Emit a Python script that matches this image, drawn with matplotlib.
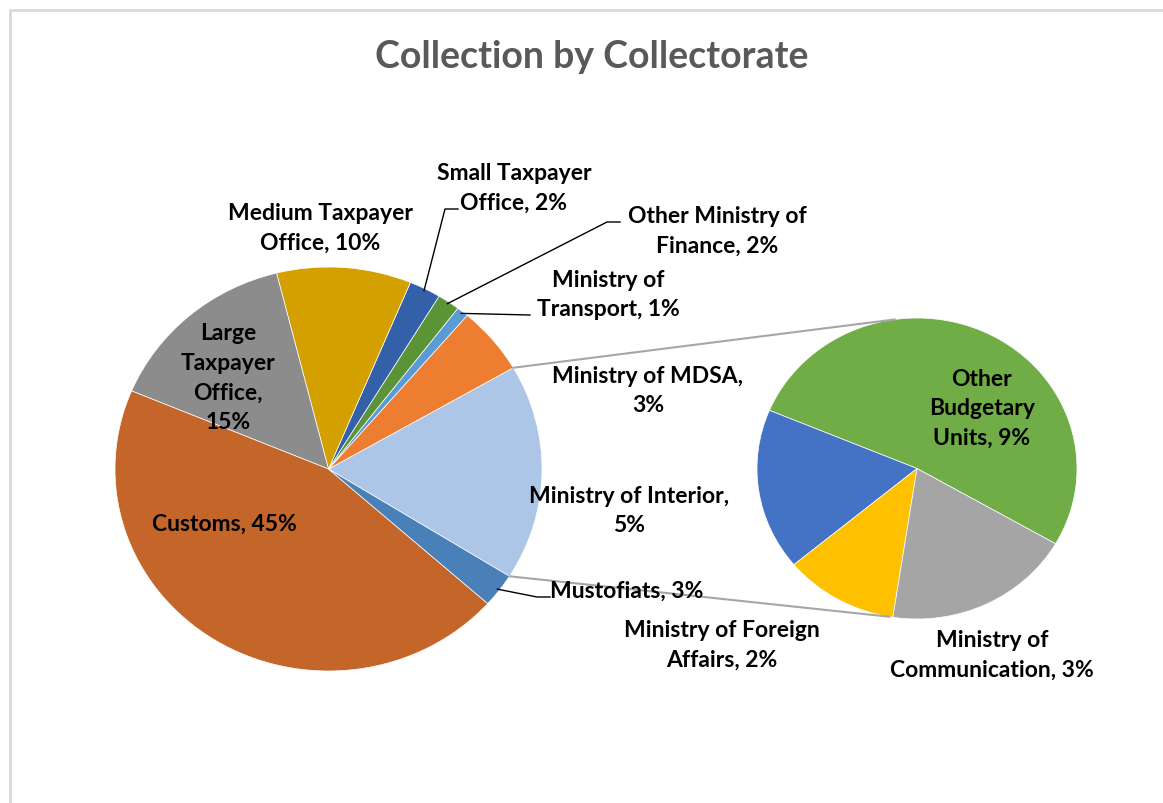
import numpy as np
import matplotlib.pyplot as plt

W, H = 1163, 804

# main pie, counterclockwise starting at the slice that is split off
main_names = ["Ministry of Interior", "Ministry of Transport", "Other Ministry of Finance",
              "Small Taxpayer Office", "Medium Taxpayer Office", "Large Taxpayer Office",
              "Customs", "Mustofiats"]
main_vals = [5.4, 0.9, 1.7, 2.4, 10.2, 14.8, 44.8, 2.7]
main_colors = ["#ED7D31", "#5B9BD5", "#5B9437", "#3360A8", "#D4A000", "#8C8C8C",
               "#C4652A", "#4A80B8"]
other_color = "#ADC5E7"

# second pie (breakdown of the split-off slice)
sub_names = ["Other Budgetary Units", "Ministry of MDSA", "Ministry of Foreign Affairs",
             "Ministry of Communication"]
sub_vals = [9.0, 3.0, 2.0, 3.3]
sub_colors = ["#70AD47", "#4472C4", "#FFC000", "#A5A5A5"]

# label layout: centre (px), words per line, alignment
label_pos = {
    "Customs": (224, 524, [2], "center"),
    "Large Taxpayer Office": (228, 378, [1, 1, 1, 1], "center"),
    "Medium Taxpayer Office": (320, 228, [2, 2], "center"),
    "Small Taxpayer Office": (514, 188, [2, 2], "center"),
    "Other Ministry of Finance": (717, 231, [3, 2], "center"),
    "Ministry of Transport": (608, 295, [2, 2], "center"),
    "Ministry of Interior": (629, 511, [3, 1], "center"),
    "Mustofiats": (550, 591, [2], "left"),
    "Ministry of MDSA": (648, 391, [3, 1], "center"),
    "Ministry of Foreign Affairs": (722, 645, [3, 2], "center"),
    "Ministry of Communication": (992, 655, [2, 2], "center"),
    "Other Budgetary Units": (982, 409, [1, 1, 2], "center"),
}
# leader line elbow / end points for labels placed away from their slice
leaders = {
    "Small Taxpayer Office": [(445, 210), (458, 210)],
    "Other Ministry of Finance": [(607, 223), (620, 223)],
    "Ministry of Transport": [(530, 316)],
    "Mustofiats": [(537, 598), (550, 598)],
}

# pie boxes in pixels: left, top, right, bottom
main_box = (115, 268, 542, 672)
sub_box = (757, 319, 1077, 620)

plt.rcParams['font.family'] = ['Lato', 'DejaVu Sans']
fig = plt.figure(figsize=(W / 100, H / 100), dpi=100)


def pie_axes(box):
    l, t, r, b = box
    a = fig.add_axes([l / W, 1 - b / H, (r - l) / W, (b - t) / H])
    return a


ax1 = pie_axes(main_box)
other_val = sum(sub_vals)
vals1 = [other_val] + main_vals
start1 = -other_val / sum(vals1) * 180 - 1
w1, _ = ax1.pie(vals1, colors=[other_color] + main_colors, startangle=start1,
                counterclock=True, radius=1,
                wedgeprops=dict(edgecolor="white", linewidth=0.5))
ax1.set_xlim(-1, 1)
ax1.set_ylim(-1, 1)
ax1.set_aspect("auto")
ax1.axis("off")

ax2 = pie_axes(sub_box)
w2, _ = ax2.pie(sub_vals, colors=sub_colors, startangle=-30, counterclock=True, radius=1,
                wedgeprops=dict(edgecolor="white", linewidth=0.5))
ax2.set_xlim(-1, 1)
ax2.set_ylim(-1, 1)
ax2.set_aspect("auto")
ax2.axis("off")

# overlay in pixel coordinates
ax = fig.add_axes([0, 0, 1, 1])
ax.set_xlim(0, W)
ax.set_ylim(H, 0)
ax.axis("off")
ax.patch.set_alpha(0)


def edge(box, deg, f=1.0):
    l, t, r, b = box
    cx, cy = (l + r) / 2, (t + b) / 2
    rx, ry = (r - l) / 2, (b - t) / 2
    a = np.radians(deg)
    return cx + f * rx * np.cos(a), cy - f * ry * np.sin(a)


# connector lines between the pies
o = w1[0]
p1 = edge(main_box, o.theta2)
p2 = edge(main_box, o.theta1)
q1 = edge(sub_box, 98)
q2 = edge(sub_box, -100)
ax.plot([p1[0], q1[0]], [p1[1], q1[1]], color="#A6A6A6", lw=1.5)
ax.plot([p2[0], q2[0]], [p2[1], q2[1]], color="#A6A6A6", lw=1.5)

total = sum(vals1)
pct = {n: v / total * 100 for n, v in zip(main_names + sub_names, main_vals + sub_vals)}
wedge_of = dict(zip(main_names, w1[1:]))

for name, (x, y, sizes, ha) in label_pos.items():
    words = f"{name}, {round(pct[name])}%".split(" ")
    lines, i = [], 0
    for s in sizes:
        lines.append(" ".join(words[i:i + s]))
        i += s
    ax.text(x, y, "\n".join(lines), ha=ha, va="center", fontsize=16.5,
            fontweight="bold", color="black", linespacing=1.5)
    if name in leaders:
        w = wedge_of[name]
        s0 = edge(main_box, (w.theta1 + w.theta2) / 2, 0.99)
        pts = [s0] + leaders[name]
        ax.plot([p[0] for p in pts], [p[1] for p in pts], color="black", lw=1)

ax.text(W / 2 + 10, 57, "Collection by Collectorate", ha="center", va="center",
        fontsize=27, fontweight="bold", color="#595959")

# chart area border
ax.plot([10, 10, W], [H, 11, 11], color="#D9D9D9", lw=2)

fig.savefig("out.png", dpi=100)
